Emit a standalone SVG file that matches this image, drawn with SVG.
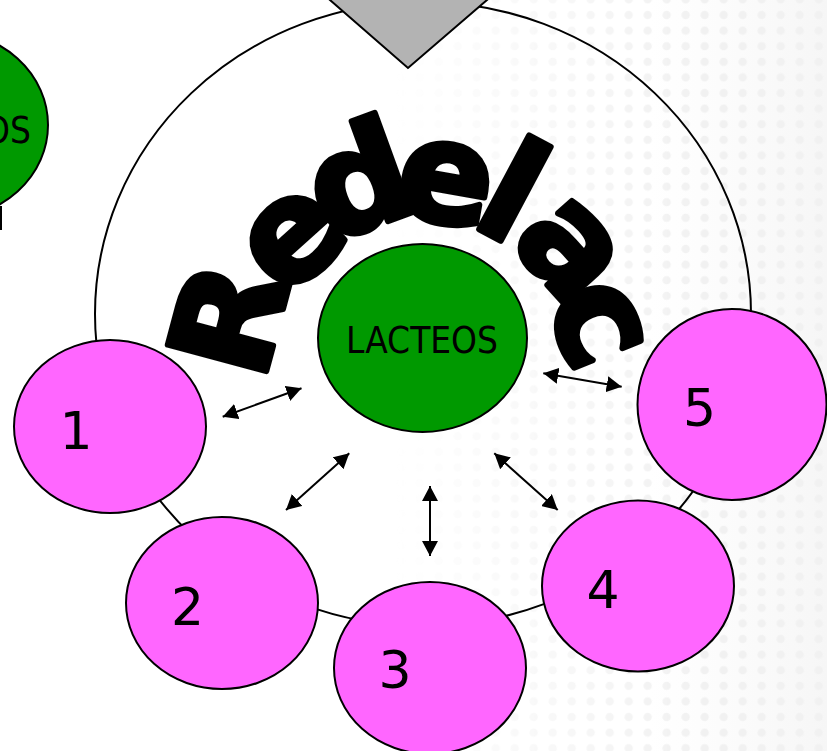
<svg xmlns="http://www.w3.org/2000/svg" width="827" height="751" viewBox="0 0 827 751">
  <defs>
    <style>
      .node { stroke: #000; stroke-width: 2; }
      .pink { fill: #ff66ff; }
      .green { fill: #009900; }
      .lbl { font-family: "DejaVu Sans", "Liberation Sans", sans-serif; fill: #000; }
      .num { font-size: 52px; text-anchor: middle; }
      .conn { stroke: #000; stroke-width: 2; fill: none; marker-start: url(#ah); marker-end: url(#ah); }
      .ring { fill: none; stroke: #000; stroke-width: 2; }
    </style>
    <marker id="ah" markerUnits="userSpaceOnUse" viewBox="0 0 15 16" markerWidth="15" markerHeight="16" refX="15" refY="8" orient="auto-start-reverse">
      <path d="M0,0 L15,8 L0,16 z" fill="#000"/>
    </marker>
    <pattern id="dots" patternUnits="userSpaceOnUse" x="-7.8" y="7.2" width="19" height="15.6">
      <circle cx="9.5" cy="7.8" r="4.2" fill="#f1f1f1"/>
    </pattern>
    <linearGradient id="fade" x1="390" y1="0" x2="700" y2="0" gradientUnits="userSpaceOnUse">
      <stop offset="0" stop-color="#fff" stop-opacity="0"/>
      <stop offset="1" stop-color="#fff" stop-opacity="1"/>
    </linearGradient>
    <linearGradient id="tint" x1="650" y1="0" x2="827" y2="0" gradientUnits="userSpaceOnUse">
      <stop offset="0" stop-color="#f8f8f8" stop-opacity="0"/>
      <stop offset="1" stop-color="#f6f6f6" stop-opacity="1"/>
    </linearGradient>
    <mask id="fadeMask" maskUnits="userSpaceOnUse" x="0" y="0" width="827" height="751">
      <rect x="0" y="0" width="827" height="751" fill="url(#fade)"/>
    </mask>
  </defs>

  <rect x="0" y="0" width="827" height="751" fill="#fff"/>
  <rect x="0" y="0" width="827" height="751" fill="url(#tint)"/>
  <rect x="0" y="0" width="827" height="751" fill="url(#dots)" mask="url(#fadeMask)"/>

  <g id="ring">
    <ellipse class="ring" cx="423" cy="314" rx="328" ry="312"/>
  </g>

  <g id="top-triangle">
    <polygon points="318.5,-10 498.6,-10 408,68" fill="#b3b3b3" stroke="#000" stroke-width="2"/>
  </g>

  <g id="left-node">
    <ellipse class="node green" cx="-56" cy="125" rx="104" ry="94"/>
    <text class="lbl" x="-121" y="143" font-size="37" textLength="152" lengthAdjust="spacingAndGlyphs">LACTEOS</text>
    <path d="M1,206 L1,230" stroke="#000" stroke-width="2"/>
  </g>

  <g id="title">
    <text font-family="'DejaVu Sans', 'Liberation Sans', sans-serif" font-weight="bold" font-size="140" fill="#000" stroke="#000" stroke-width="6" stroke-linejoin="round"
      x="263 285 328 392.1 468.7 508 544.4"
      y="383.5 300 243 213.2 223.8 241.2 300.2"
      rotate="-75 -42 -20 10 28 48 68">Redelac</text>
  </g>

  <g id="center-node">
    <ellipse class="node green" cx="422.5" cy="338" rx="104.5" ry="94"/>
    <text class="lbl" x="346" y="353" font-size="37" textLength="152" lengthAdjust="spacingAndGlyphs">LACTEOS</text>
  </g>

  <g id="node-1">
    <ellipse class="node pink" cx="110" cy="426.5" rx="96" ry="86.5"/>
    <text class="lbl num" x="76" y="449">1</text>
  </g>
  <g id="node-2">
    <ellipse class="node pink" cx="222" cy="603" rx="96" ry="86"/>
    <text class="lbl num" x="187.5" y="625">2</text>
  </g>
  <g id="node-3">
    <ellipse class="node pink" cx="430" cy="668" rx="96" ry="86"/>
    <text class="lbl num" x="395" y="688">3</text>
  </g>
  <g id="node-4">
    <ellipse class="node pink" cx="638" cy="586" rx="96" ry="85.5"/>
    <text class="lbl num" x="603" y="608">4</text>
  </g>
  <g id="node-5">
    <ellipse class="node pink" cx="732" cy="404.5" rx="94.5" ry="95.5"/>
    <text class="lbl num" x="699.5" y="426">5</text>
  </g>

  <g id="connectors">
    <line class="conn" x1="222.7" y1="416.7" x2="301.5" y2="388.3"/>
    <line class="conn" x1="286" y1="510" x2="349.3" y2="453.3"/>
    <line class="conn" x1="430" y1="486" x2="430" y2="556"/>
    <line class="conn" x1="494.3" y1="453.3" x2="557.7" y2="510"/>
    <line class="conn" x1="543.3" y1="373.3" x2="621.7" y2="386.7"/>
  </g>
</svg>
